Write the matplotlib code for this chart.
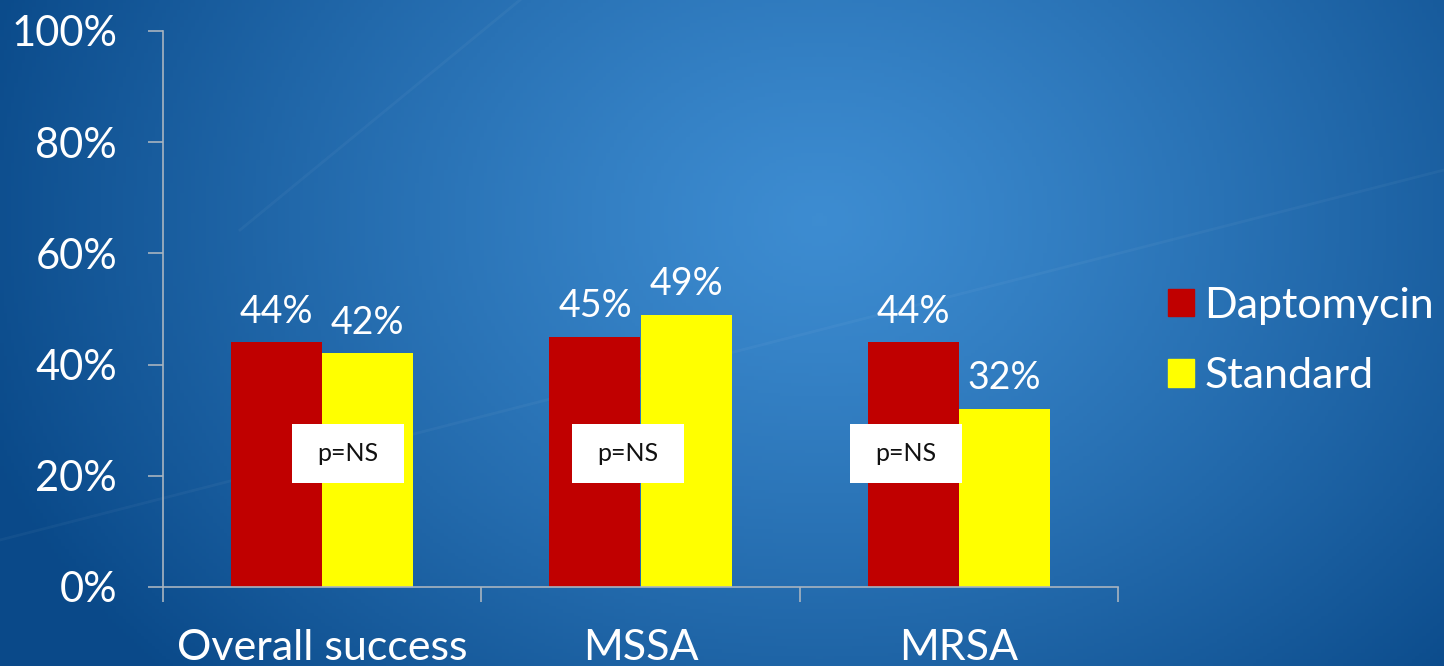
import matplotlib.pyplot as plt
import numpy as np
from matplotlib.patches import Rectangle

plt.rcParams['font.family'] = ['Lato', 'DejaVu Sans']

# data
categories = ["Overall success", "MSSA", "MRSA"]
dapto = [44, 45, 44]
standard = [42, 49, 32]
series_names = ["Daptomycin", "Standard"]
p_labels = ["p=NS", "p=NS", "p=NS"]
yticks = [0, 20, 40, 60, 80, 100]

RED = "#C00000"
YELLOW = "#FFFF00"
GRID = "#a8b4c0"

fig = plt.figure(figsize=(14.44, 6.66), dpi=100)

# blue slide background
bg = fig.add_axes([0, 0, 1, 1], zorder=-10)
xx, yy = np.meshgrid(np.linspace(0, 1444, 400), np.linspace(0, 666, 200))
d = np.sqrt(((xx - 820) / 880) ** 2 + ((yy - 220) / 680) ** 2)
t = np.clip(d, 0, 1) ** 1.2
c_in = np.array([0.24, 0.55, 0.82])
c_out = np.array([0.04, 0.29, 0.54])
img = c_in[None, None, :] * (1 - t[..., None]) + c_out[None, None, :] * t[..., None]
bg.imshow(img, extent=[0, 1444, 666, 0], aspect="auto")
for x0, y0, x1, y1 in [(0, 540, 1444, 170), (240, 230, 520, 0)]:
    bg.plot([x0, x1], [y0, y1], color="white", alpha=0.04, lw=2)
bg.set_xlim(0, 1444)
bg.set_ylim(666, 0)
bg.axis("off")

ax = fig.add_axes([163 / 1444, 1 - 587 / 666, (1118 - 163) / 1444, (587 - 31) / 666])
ax.set_facecolor("none")

x = np.arange(len(categories))
w = 0.286
b1 = ax.bar(x - w / 2, dapto, w, color=RED, label=series_names[0], zorder=2)
b2 = ax.bar(x + w / 2, standard, w, color=YELLOW, label=series_names[1], zorder=2)

for bars, vals in [(b1, dapto), (b2, standard)]:
    for r, v in zip(bars, vals):
        ax.text(r.get_x() + r.get_width() / 2, v + 2.3, f"{v}%", ha="center", va="bottom",
                color="white", fontsize=27)

# p=NS boxes
box_offsets = [0.08, -0.04, -0.167]
for xi, off, lab in zip(x, box_offsets, p_labels):
    ax.add_patch(Rectangle((xi + off - 0.176, 18.7), 0.352, 10.6, facecolor="white",
                           edgecolor="none", zorder=3))
    ax.text(xi + off, 24.0, lab, ha="center", va="center", fontsize=18, color="#111111",
            zorder=4)

ax.set_xlim(-0.5, 2.5)
ax.set_ylim(0, 100)
ax.set_yticks(yticks)
ax.set_yticklabels([f"{v}%" for v in yticks])
ax.tick_params(axis="y", colors=GRID, labelcolor="white", labelsize=30, length=11, pad=22, width=1.2)

ax.set_xticks([-0.5, 0.5, 1.5, 2.5])
ax.set_xticklabels([])
ax.tick_params(axis="x", which="major", colors=GRID, length=11, width=1.2)
ax.set_xticks(x, minor=True)
ax.set_xticklabels(categories, minor=True)
ax.tick_params(axis="x", which="minor", length=0, labelcolor="white", labelsize=31, pad=30)

for s in ["top", "right"]:
    ax.spines[s].set_visible(False)
for s in ["left", "bottom"]:
    ax.spines[s].set_color(GRID)
    ax.spines[s].set_linewidth(1.2)

fig.legend(handles=[Rectangle((0, 0), 1, 1, color=RED), Rectangle((0, 0), 1, 1, color=YELLOW)],
           labels=series_names, loc="center left", bbox_to_anchor=(1168 / 1444, 1 - 341 / 666),
           frameon=False, fontsize=31, labelcolor="white", handlelength=0.6, handleheight=0.6,
           handletextpad=0.25, labelspacing=0.75, borderaxespad=0, borderpad=0)

fig.savefig("out.png", dpi=100)
